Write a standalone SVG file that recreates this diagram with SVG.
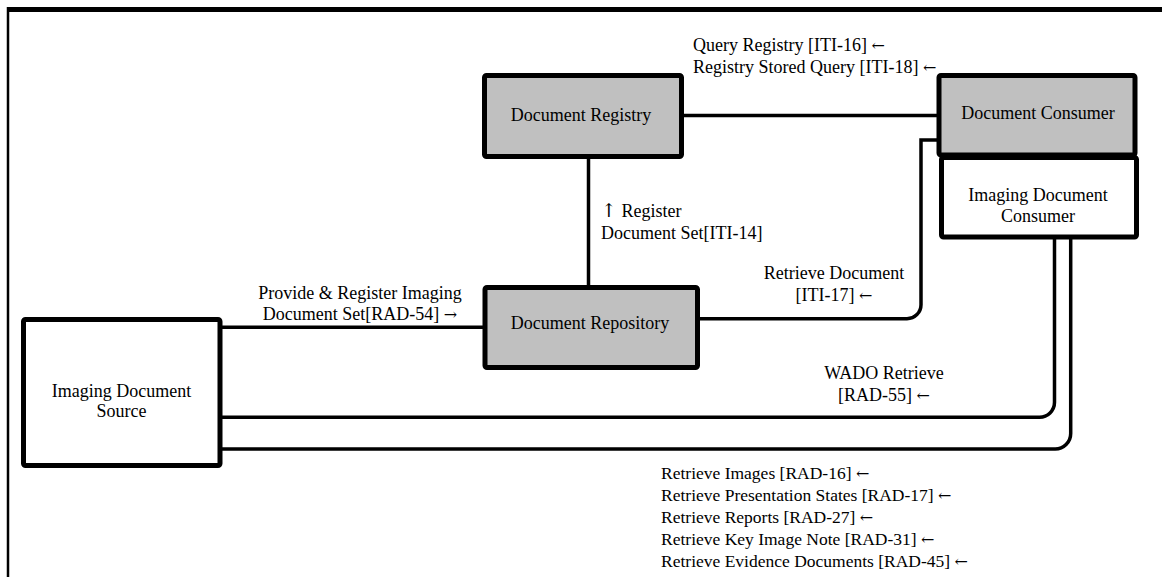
<svg xmlns="http://www.w3.org/2000/svg" width="1162" height="577" viewBox="0 0 1162 577">
<style>
text{font-family:"Liberation Serif","Times New Roman",serif;font-size:18px;fill:#000}
.a{font-family:"DejaVu Serif","DejaVu Sans",serif;font-size:16px}
.u{font-family:"DejaVu Serif","DejaVu Sans",serif;font-size:19px}
.s{font-size:17.5px}
.c{text-anchor:middle}
.box{stroke:#000;stroke-width:5}
.g{fill:#C0C0C0}
.w{fill:#fff}
.ln{fill:none;stroke:#000;stroke-width:3.5}
</style>
<rect width="1162" height="577" fill="#fff"/>
<g id="frame">
<line x1="7" y1="9.5" x2="1162" y2="9.5" stroke="#000" stroke-width="5"/>
<line x1="8" y1="7" x2="8" y2="577" stroke="#000" stroke-width="2.5"/>
</g>
<g id="connectors">
<path class="ln" d="M684 115.5H937"/>
<path class="ln" d="M588.5 159V285"/>
<path class="ln" d="M222 327.3H483"/>
<path class="ln" d="M700 318.7H907A14 14 0 0 0 921 304.7V140H937"/>
<path class="ln" d="M222 417.3H1039A15 15 0 0 0 1054.5 402V239"/>
<path class="ln" d="M222 449H1055A15.5 15.5 0 0 0 1070.7 433.5V239"/>
</g>
<g id="labels">
<text x="693" y="51">Query Registry [ITI-16] <tspan class="a">←</tspan></text>
<text x="693" y="73">Registry Stored Query [ITI-18] <tspan class="a">←</tspan></text>
<text x="601" y="217"><tspan class="u">↑</tspan> Register</text>
<text x="601" y="239">Document Set[ITI-14]</text>
<text class="c" x="360" y="299">Provide &amp; Register Imaging</text>
<text class="c" x="360" y="320">Document Set[RAD-54] <tspan class="a">→</tspan></text>
<text class="c" x="834" y="279">Retrieve Document</text>
<text class="c" x="834" y="301">[ITI-17] <tspan class="a">←</tspan></text>
<text class="c" x="884" y="379">WADO Retrieve</text>
<text class="c" x="884" y="401">[RAD-55] <tspan class="a">←</tspan></text>
<text class="s" x="661" y="479">Retrieve Images [RAD-16] <tspan class="a">←</tspan></text>
<text class="s" x="661" y="501">Retrieve Presentation States [RAD-17] <tspan class="a">←</tspan></text>
<text class="s" x="661" y="523">Retrieve Reports [RAD-27] <tspan class="a">←</tspan></text>
<text class="s" x="661" y="545">Retrieve Key Image Note [RAD-31] <tspan class="a">←</tspan></text>
<text class="s" x="661" y="567">Retrieve Evidence Documents [RAD-45] <tspan class="a">←</tspan></text>
</g>
<g id="document-registry">
<rect class="box g" x="484.5" y="75.5" width="197" height="81" rx="2"/>
<text class="c" x="581" y="121">Document Registry</text>
</g>
<g id="document-consumer">
<rect class="box g" x="939" y="75.5" width="196" height="79.5" rx="2"/>
<text class="c" x="1038" y="119">Document Consumer</text>
</g>
<g id="imaging-document-consumer">
<rect class="box w" x="941.5" y="157.5" width="195" height="79.5" rx="2"/>
<text class="c" x="1038" y="201">Imaging Document</text>
<text class="c" x="1038" y="222">Consumer</text>
</g>
<g id="document-repository">
<rect class="box g" x="485" y="287.5" width="212.5" height="80" rx="2"/>
<text class="c" x="590" y="329">Document Repository</text>
</g>
<g id="imaging-document-source">
<rect class="box w" x="23.5" y="319.5" width="196.5" height="146" rx="2"/>
<text class="c" x="121.5" y="397">Imaging Document</text>
<text class="c" x="121.5" y="417">Source</text>
</g>
</svg>
